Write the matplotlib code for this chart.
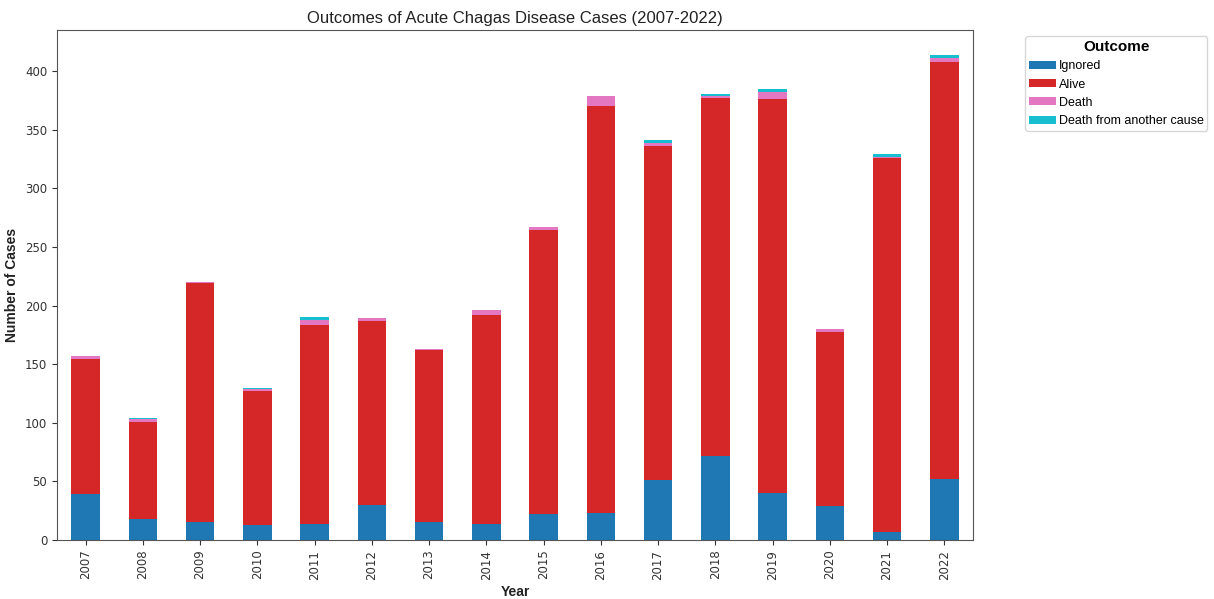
import numpy as np
import pandas as pd
import matplotlib
matplotlib.use('Agg')
import matplotlib.pyplot as plt

# valores
years = [2007, 2008, 2009, 2010, 2011, 2012, 2013, 2014,
         2015, 2016, 2017, 2018, 2019, 2020, 2021, 2022]
ignored = [39, 18, 15, 13, 14, 30, 15, 14, 22, 23, 51, 72, 40, 29, 7, 52]
alive = [115, 83, 204, 114, 169, 157, 147, 178, 242, 347, 285, 305, 336, 148, 319, 356]
death = [3, 2, 1, 2, 5, 2, 1, 4, 3, 9, 3, 2, 6, 3, 1, 3]
death_other = [0, 1, 0, 1, 2, 0, 0, 0, 0, 0, 2, 1, 3, 0, 2, 3]

outcomes = ['Ignored', 'Alive', 'Death', 'Death from another cause']
colors = ['#1f77b4', '#d62728', '#e377c2', '#17becf']

df = pd.DataFrame({'Ignored': ignored, 'Alive': alive, 'Death': death,
                   'Death from another cause': death_other}, index=years)

fig = plt.figure(figsize=(12.14, 5.99), dpi=100)
ax = fig.add_axes([57/1214, 1 - 540/599, 916/1214, 510/599])

df[outcomes].plot(kind='bar', stacked=True, color=colors, ax=ax, legend=False)

ax.set_title('Outcomes of Acute Chagas Disease Cases (2007-2022)',
             fontsize=12, family='Liberation Sans', color='#222222', pad=5)
ax.set_xlabel('Year', fontsize=10, fontweight='bold', family='Liberation Sans',
              color='#222222')
ax.set_ylabel('Number of Cases', fontsize=10, fontweight='bold',
              family='Liberation Sans', color='#222222')
ax.set_ylim(0, 435)
ax.set_yticks([0, 50, 100, 150, 200, 250, 300, 350, 400])
ax.tick_params(labelsize=8.5, colors='#333333')
for s in ax.spines.values():
    s.set_color('#555555')

leg = ax.legend(title='Outcome', bbox_to_anchor=(1.05, 1.0), loc='upper left',
                prop={'family': 'Liberation Sans', 'size': 9},
                handlelength=2.2, handleheight=0.6, handletextpad=0.2,
                labelspacing=0.5, borderpad=0.3)
leg.get_title().set_fontsize(11)
leg.get_title().set_fontfamily('Liberation Sans')
leg.get_title().set_fontweight('bold')

plt.savefig('out.png')
